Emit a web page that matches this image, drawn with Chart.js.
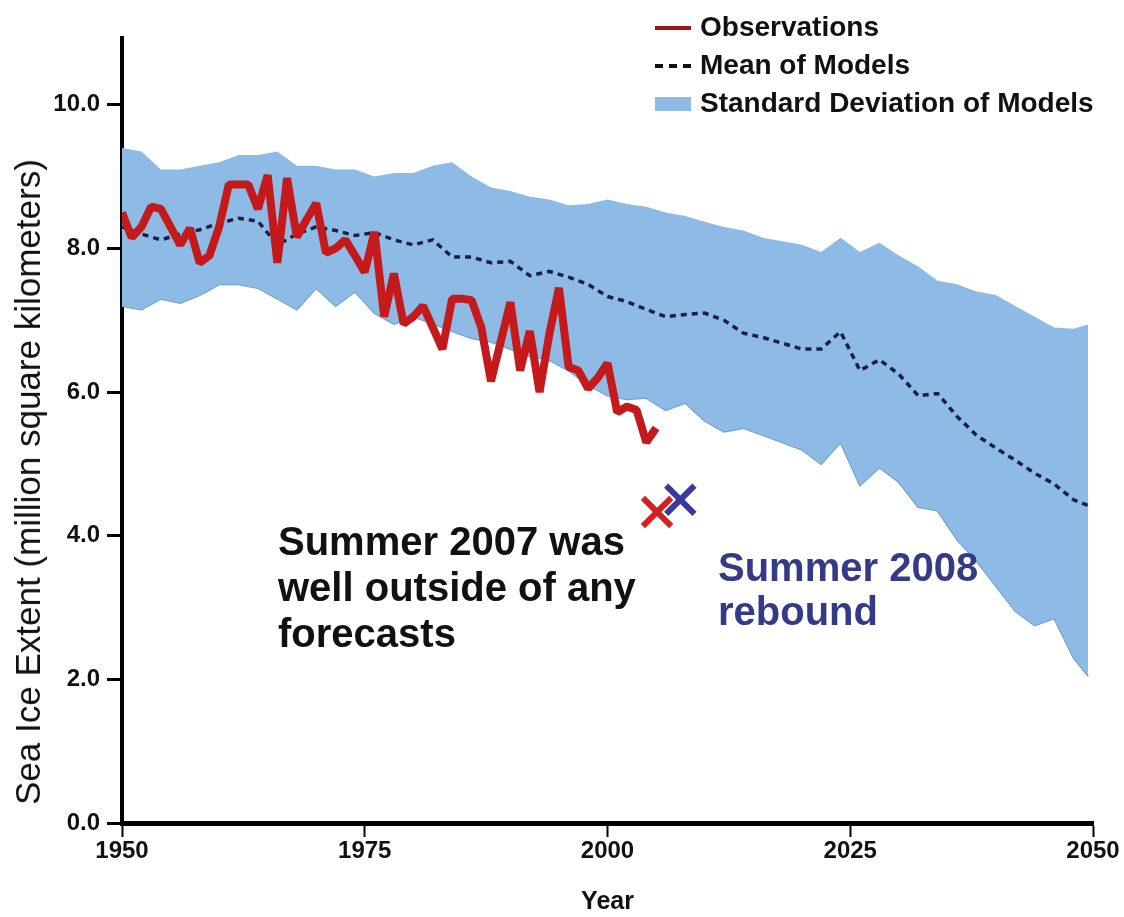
<!DOCTYPE html>
<html>
<head>
<meta charset="utf-8">
<script src="https://cdn.jsdelivr.net/npm/chart.js@4"></script>
<style>
  html, body { margin: 0; padding: 0; background: #fff; }
  #wrap { position: relative; width: 1124px; height: 917px; }
  .lab { position: absolute; font-family: 'Liberation Sans', Arial, sans-serif; font-weight: bold; white-space: nowrap; }
  .legend { font-size: 28px; color: #111; }
  .sw { position: absolute; }
  #ytitle { position: absolute; left: 28px; top: 482px; font-family: 'Liberation Sans', Arial, sans-serif; font-size: 35px; color: #111;
            white-space: nowrap; transform: translate(-50%, -50%) rotate(-90deg); }
</style>
</head>
<body>
<div id="wrap">
  <canvas id="c" width="1124" height="917"></canvas>

  <div id="ytitle">Sea Ice Extent (million square kilometers)</div>

  <!-- legend -->
  <div class="sw" style="left:655px; top:26px; width:36px; height:4px; background:#9e1414;"></div>
  <div class="lab legend" style="left:700px; top:11px;">Observations</div>
  <div class="sw" style="left:655px; top:64px; width:36px; height:0; border-top:4px dashed #111;"></div>
  <div class="lab legend" style="left:700px; top:49px;">Mean of Models</div>
  <div class="sw" style="left:655px; top:97px; width:36px; height:14px; background:#8ebbe6;"></div>
  <div class="lab legend" style="left:700px; top:87px;">Standard Deviation of Models</div>

  <!-- annotations -->
  <div class="lab" style="left:278px; top:518px; font-size:40px; line-height:46px; color:#111;">Summer 2007 was<br>well outside of any<br>forecasts</div>
  <div class="lab" style="left:718px; top:545px; font-size:40px; line-height:44px; color:#343a85;">Summer 2008<br>rebound</div>
</div>
<script>
// observed September extent, million km2
const obsYears = [1950, 1951, 1952, 1953, 1954, 1955, 1956, 1957, 1958, 1959,
  1960, 1961, 1962, 1963, 1964, 1965, 1966, 1967, 1968, 1969,
  1970, 1971, 1972, 1973, 1974, 1975, 1976, 1977, 1978, 1979,
  1980, 1981, 1982, 1983, 1984, 1985, 1986, 1987, 1988, 1989,
  1990, 1991, 1992, 1993, 1994, 1995, 1996, 1997, 1998, 1999,
  2000, 2001, 2002, 2003, 2004, 2005];
const obsValues = [8.5, 8.15, 8.3, 8.58, 8.55, 8.3, 8.05, 8.28, 7.8, 7.9,
  8.3, 8.89, 8.89, 8.89, 8.55, 9.02, 7.8, 8.98, 8.16, 8.4,
  8.63, 7.94, 8.0, 8.12, 7.9, 7.67, 8.23, 7.05, 7.65, 6.95,
  7.05, 7.2, 6.9, 6.6, 7.3, 7.3, 7.28, 6.9, 6.15, 6.7,
  7.25, 6.3, 6.85, 6.0, 6.8, 7.45, 6.35, 6.3, 6.05, 6.2,
  6.4, 5.72, 5.8, 5.75, 5.3, 5.5];

// model ensemble
const modelYears = [1950, 1952, 1954, 1956, 1958, 1960, 1962, 1964, 1966, 1968,
  1970, 1972, 1974, 1976, 1978, 1980, 1982, 1984, 1986, 1988,
  1990, 1992, 1994, 1996, 1998, 2000, 2002, 2004, 2006, 2008,
  2010, 2012, 2014, 2016, 2018, 2020, 2022, 2024, 2026, 2028,
  2030, 2032, 2034, 2036, 2038, 2040, 2042, 2044, 2046, 2048, 2049.5];
const modelMean = [8.3, 8.2, 8.12, 8.2, 8.26, 8.35, 8.42, 8.38, 8.05, 8.2,
  8.3, 8.25, 8.18, 8.22, 8.12, 8.05, 8.12, 7.88, 7.88, 7.8,
  7.82, 7.62, 7.68, 7.6, 7.5, 7.33, 7.26, 7.15, 7.05, 7.08,
  7.1, 7.0, 6.82, 6.76, 6.68, 6.6, 6.6, 6.84, 6.3, 6.45,
  6.25, 5.95, 5.98, 5.66, 5.4, 5.22, 5.05, 4.87, 4.72, 4.5, 4.42];
const modelUpper = [9.4, 9.35, 9.1, 9.1, 9.15, 9.2, 9.3, 9.3, 9.35, 9.15,
  9.15, 9.1, 9.1, 9.0, 9.05, 9.05, 9.15, 9.2, 9.0, 8.85,
  8.8, 8.72, 8.68, 8.6, 8.62, 8.68, 8.62, 8.58, 8.5, 8.45,
  8.37, 8.3, 8.25, 8.15, 8.1, 8.05, 7.95, 8.15, 7.95, 8.08,
  7.9, 7.75, 7.55, 7.5, 7.4, 7.35, 7.2, 7.05, 6.9, 6.88, 6.94];
const modelLower = [7.2, 7.15, 7.3, 7.24, 7.35, 7.5, 7.5, 7.45, 7.3, 7.15,
  7.45, 7.2, 7.4, 7.1, 6.95, 7.05, 6.95, 6.85, 6.75, 6.7,
  6.6, 6.5, 6.45, 6.3, 6.1, 5.95, 5.9, 5.92, 5.75, 5.85,
  5.6, 5.45, 5.5, 5.4, 5.3, 5.2, 5.0, 5.3, 4.7, 4.95,
  4.75, 4.4, 4.35, 3.95, 3.65, 3.3, 2.95, 2.75, 2.85, 2.3, 2.05];

// the two summer markers
const markerYears = [2005.1, 2007.5];
const markerValues = [4.33, 4.5];
const markerColors = ['#d42020', '#3a3a9e'];

const xTicks = [1950, 1975, 2000, 2025, 2050];
const yTicks = [0, 2, 4, 6, 8, 10];

function pts(xs, ys) {
  return xs.map((x, i) => ({ x: x, y: ys[i] }));
}

const tickFont = { family: "'Liberation Sans', Arial, sans-serif", weight: 'bold', size: 24 };
const xFont = { family: "'Liberation Sans Narrow', 'Arial Narrow', 'Liberation Sans', Arial, sans-serif", weight: 'bold', size: 24 };
const yearFont = { family: "'Liberation Sans Narrow', 'Arial Narrow', 'Liberation Sans', Arial, sans-serif", weight: 'bold', size: 25 };

new Chart(document.getElementById('c'), {
  type: 'line',
  data: {
    datasets: [
      {
        type: 'scatter',
        data: pts(markerYears, markerValues),
        pointStyle: 'crossRot',
        pointRadius: 20,
        pointBorderWidth: 6,
        pointBorderColor: markerColors,
        pointBackgroundColor: markerColors
      },
      {
        label: 'Observations',
        data: pts(obsYears, obsValues),
        borderColor: '#c41a1c',
        borderWidth: 8,
        borderJoinStyle: 'bevel',
        pointRadius: 0,
        tension: 0
      },
      {
        label: 'Mean of Models',
        data: pts(modelYears, modelMean),
        borderColor: '#17204a',
        borderWidth: 3.5,
        borderDash: [6, 5],
        pointRadius: 0,
        tension: 0
      },
      {
        label: 'upper',
        data: pts(modelYears, modelUpper),
        borderWidth: 0,
        borderColor: 'rgba(0,0,0,0)',
        backgroundColor: '#8ebbe6',
        fill: '+1',
        pointRadius: 0,
        tension: 0
      },
      {
        label: 'lower',
        data: pts(modelYears, modelLower),
        borderColor: '#6e9dce',
        borderWidth: 2,
        pointRadius: 0,
        fill: false,
        tension: 0
      }
    ]
  },
  options: {
    responsive: false,
    animation: false,
    layout: { padding: { left: 0, top: 38, right: 31, bottom: 0 } },
    plugins: { legend: { display: false }, tooltip: { enabled: false } },
    scales: {
      x: {
        type: 'linear',
        min: 1950,
        max: 2050,
        afterBuildTicks: s => { s.ticks = xTicks.map(v => ({ value: v })); },
        afterFit: s => { s.height = 94; },
        border: { display: true, color: '#000', width: 5 },
        grid: { drawOnChartArea: false, drawTicks: true, tickLength: 14, tickWidth: 2, tickColor: '#000' },
        ticks: { color: '#111', font: xFont, padding: 0, maxRotation: 0, callback: v => String(v) },
        title: { display: true, text: 'Year', color: '#111', font: yearFont, padding: { top: 0, bottom: 0 } }
      },
      y: {
        type: 'linear',
        min: 0,
        max: 10.93,
        afterBuildTicks: s => { s.ticks = yTicks.map(v => ({ value: v })); },
        afterFit: s => { s.width = 122; },
        border: { display: true, color: '#000', width: 4 },
        grid: { drawOnChartArea: false, drawTicks: true, tickLength: 15, tickWidth: 3, tickColor: '#000' },
        ticks: { color: '#111', font: tickFont, padding: 7, callback: v => v.toFixed(1) },
        title: { display: false }
      }
    }
  }
});
</script>
</body>
</html>
